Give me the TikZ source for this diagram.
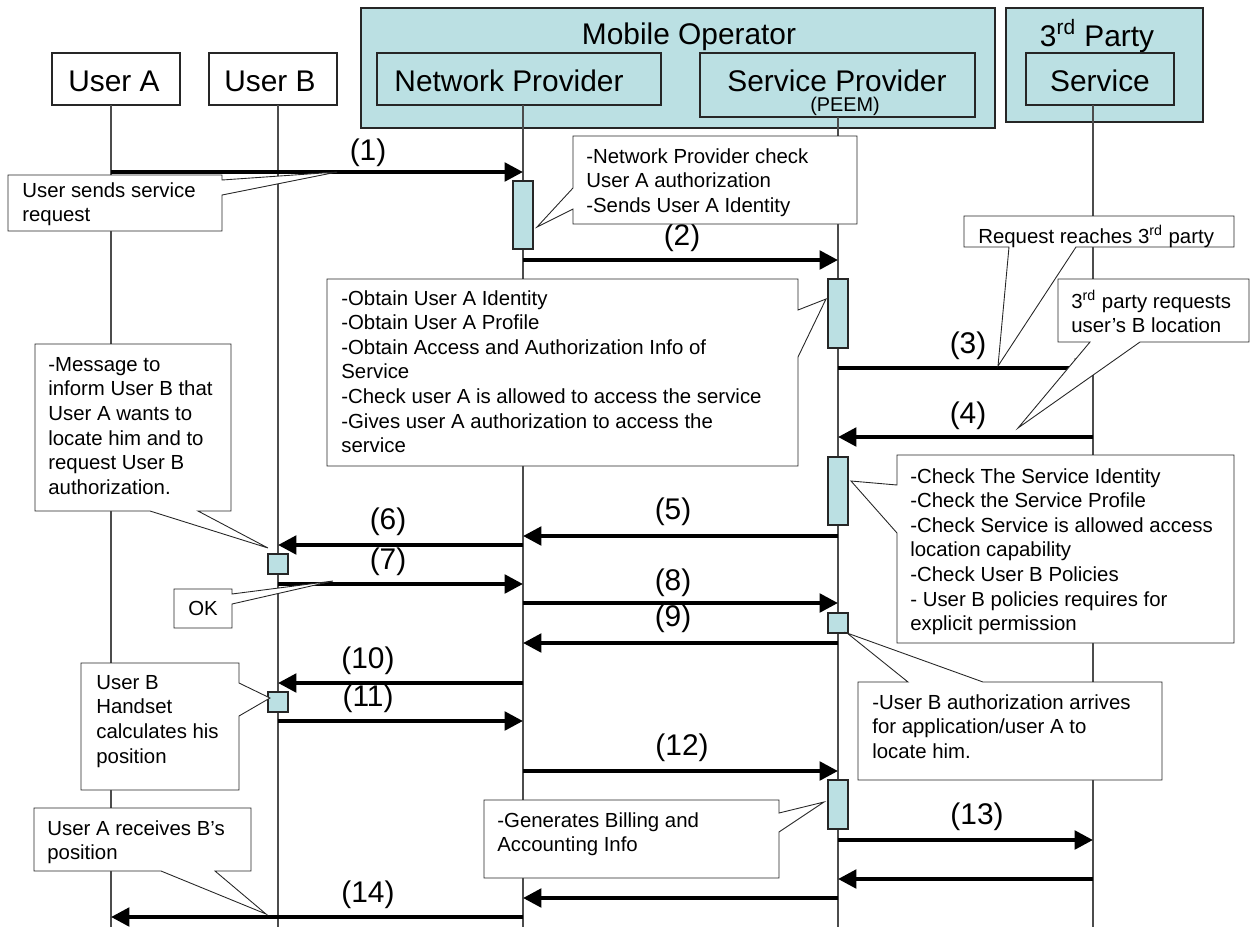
\documentclass[tikz,border=0pt]{standalone}
\usepackage{fontspec}
\setmainfont{Liberation Sans}
\usetikzlibrary{arrows.meta}
\definecolor{opfill}{RGB}{187,224,227}

\begin{document}
\begin{tikzpicture}[x=0.02cm, y=-0.02cm,
	box/.style={draw=black!85, line width=0.6pt},
	life/.style={draw=black!70, line width=0.6pt},
	msg/.style={line width=2.3pt, -{Triangle[length=10.5pt, width=10.5pt]}},
	note/.style={draw=black!85, fill=white, line width=0.5pt},
	notetext/.style={anchor=north west, inner sep=0pt, align=left, font=\fontsize{11.6}{14}\selectfont},
	title/.style={anchor=base, inner sep=0pt, font=\fontsize{17}{20}\selectfont},
	num/.style={inner sep=0pt, font=\fontsize{17}{20}\selectfont}]
	\useasboundingbox (0,0) rectangle (1251,927);
	\def\YEND{927}
	%绘制两个外框
	\draw [box, fill=opfill] (361,8) rectangle (995,128);
	\draw [box, fill=opfill] (1006,8) rectangle (1203,122);
	\node [title] (mo) at (689,44) {Mobile Operator};
	\node [title] (tp) at (1097,46) {3\textsuperscript{rd} Party};
	%绘制参与者方框
	\draw [box, fill=white] (52,53) rectangle (180,105);
	\draw [box, fill=white] (209,53) rectangle (337,105);
	\draw [box, fill=opfill] (377,53) rectangle (661,105);
	\draw [box, fill=opfill] (700,53) rectangle (975,117);
	\draw [box, fill=opfill] (1026,53) rectangle (1174,105);
	\node [title] (ua) at (114,91) {User A};
	\node [title] (ub) at (270,91) {User B};
	\node [title] (np) at (509,91) {Network Provider};
	\node [title] (sp) at (837,91) {Service Provider};
	\node [title, font=\fontsize{11.3}{13}\selectfont] (peem) at (845,111) {(PEEM)};
	\node [title] (sv) at (1100,91) {Service};
	%绘制生命线
	\foreach \n/\x/\y in {la/111/105, lb/278/105, lnp/523/105, lsp/838/117, lsv/1093/105}
	{
		\coordinate (\n) at (\x,\y);
		\draw [life] (\n) -- (\x,\YEND);
	}
	%绘制激活条
	\foreach \x/\ya/\yb in {523/181/249, 838/279/348, 838/457/525, 838/613/633, 838/780/829, 278/554/574, 278/692/712}
		\draw [box, fill=opfill] (\x-10,\ya) rectangle (\x+10,\yb);
	%绘制消息箭头
	\foreach \a/\b/\y in {la/lnp/172, lnp/lsp/260, lsp/lsv/368, lsv/lsp/437, lsp/lnp/536, lnp/lb/545,
		lb/lnp/584, lnp/lsp/603, lsp/lnp/643, lnp/lb/683, lb/lnp/721, lnp/lsp/771,
		lsp/lsv/840, lsv/lsp/879, lsp/lnp/898, lnp/la/917}
		\draw [msg] (\a |- 0,\y) -- (\b |- 0,\y);
	%标注消息编号
	\foreach \i/\x/\y in {1/368/153, 2/682/238, 3/968/346, 4/968/416, 5/673/512, 6/388/522, 7/388/562,
		8/673/583, 9/673/619, 10/368/661, 11/368/699, 12/682/748, 13/977/817, 14/368/895}
		\node [num] (m\i) at (\x,\y) {(\i)};
	%绘制说明框
	\draw [note] (8,175) -- (222,175) -- (222,180) -- (337,172) -- (222,195) -- (222,231) -- (8,231) -- cycle;
	\node [notetext] (n1) at (22,182) {User sends service\\request};
	\draw [note] (573,136) -- (857,136) -- (857,224) -- (573,224) -- (573,209) -- (537,227) -- (573,188) -- cycle;
	\node [notetext] (n2) at (586,148) {-Network Provider check\\User A authorization\\-Sends User A Identity};
	\draw [note] (964,216) -- (1234,216) -- (1234,247) -- (1076,247) -- (998,366) -- (1009,247) -- (964,247) -- cycle;
	\node [notetext, anchor=base west] (n3) at (978,243) {Request reaches 3\textsuperscript{rd} party};
	\draw [note] (1058,279) -- (1249,279) -- (1249,342) -- (1140,342) -- (1018,428) -- (1090,342) -- (1058,342) -- cycle;
	\node [notetext] (n4) at (1071,290) {3\textsuperscript{rd} party requests\\user’s B location};
	\draw [note] (327,279) -- (798,279) -- (798,310) -- (826,299) -- (798,357) -- (798,466) -- (327,466) -- cycle;
	\node [notetext] (n5) at (341,290) {-Obtain User A Identity\\-Obtain User A Profile\\-Obtain Access and Authorization Info of\\Service\\-Check user A is allowed to access the service\\-Gives user A authorization to access the\\service};
	\draw [note] (35,344) -- (231,344) -- (231,511) -- (198,511) -- (268,548) -- (150,511) -- (35,511) -- cycle;
	\node [notetext] (n6) at (48,357) {-Message to\\inform User B that\\User A wants to\\locate him and to\\request User B\\authorization.};
	\draw [note] (174,589) -- (232,589) -- (232,594) -- (333,581) -- (232,604) -- (232,628) -- (174,628) -- cycle;
	\node [notetext, anchor=center] (n7) at (203,608) {OK};
	\draw [note] (897,455) -- (1234,455) -- (1234,643) -- (897,643) -- (897,533) -- (851,481) -- (897,485) -- cycle;
	\node [notetext] (n8) at (910,468) {-Check The Service Identity\\-Check the Service Profile\\-Check Service is allowed access\\location capability\\-Check User B Policies\\- User B policies requires for\\explicit permission};
	\draw [note] (858,682) -- (908,682) -- (847,633) -- (983,682) -- (1162,682) -- (1162,780) -- (858,780) -- cycle;
	\node [notetext] (n9) at (872,694) {-User B authorization arrives\\for application/user A to\\locate him.};
	\draw [note] (81,663) -- (239,663) -- (239,683) -- (270,698) -- (239,716) -- (239,790) -- (81,790) -- cycle;
	\node [notetext] (n10) at (96,675) {User B\\Handset\\calculates his\\position};
	\draw [note] (34,808) -- (251,808) -- (251,871) -- (215,871) -- (266,914) -- (161,871) -- (34,871) -- cycle;
	\node [notetext] (n11) at (47,820) {User A receives B’s\\position};
	\draw [note] (484,800) -- (779,800) -- (779,813) -- (824,802) -- (779,832) -- (779,878) -- (484,878) -- cycle;
	\node [notetext] (n12) at (497,812) {-Generates Billing and\\Accounting Info};
\end{tikzpicture}
\end{document}
